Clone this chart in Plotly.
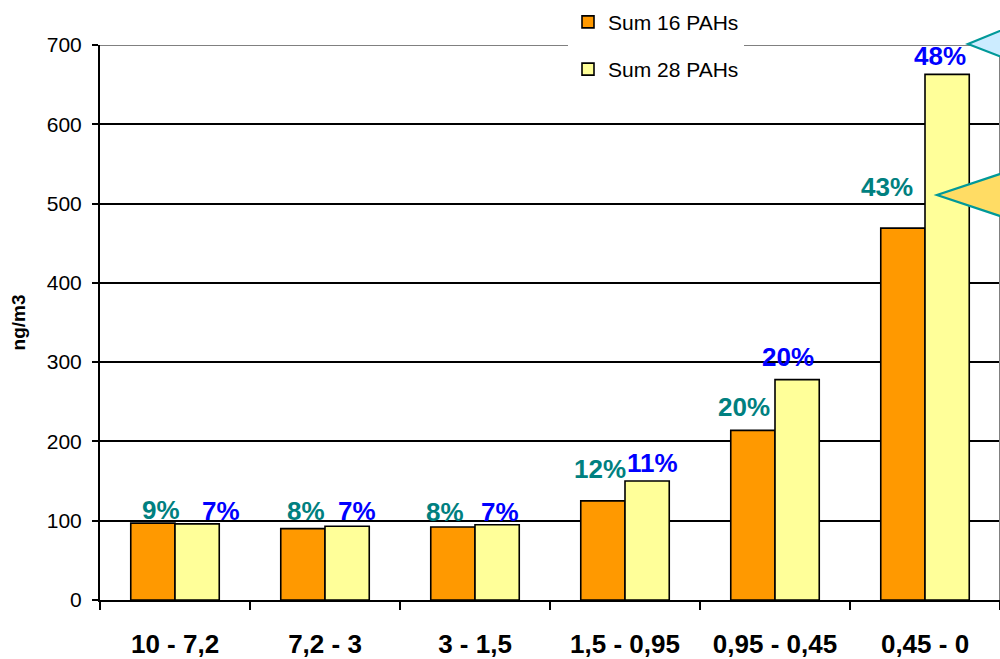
import plotly.graph_objects as go

# Particle size fractions (µm) and PAH concentrations (ng/m3)
categories = ["10 - 7,2", "7,2 - 3", "3 - 1,5", "1,5 - 0,95", "0,95 - 0,45", "0,45 - 0"]
sum16 = [97, 90, 92, 125, 214, 469]
sum28 = [96, 93, 95, 150, 278, 663]
pct16 = ["9%", "8%", "8%", "12%", "20%", "43%"]
pct28 = ["7%", "7%", "7%", "11%", "20%", "48%"]
y_ticks = [0, 100, 200, 300, 400, 500, 600, 700]

# label nudges (pixels): horizontal shift, height above bar top
shift16_x = [8, 3, -8, -3, -9, -16]
shift16_y = [13, 18, 15, 32, 23, 41]
shift28_x = [24, 10, 3, 5, -9, -7]
shift28_y = [13, 15, 13, 18, 23, 18]

FONT = "Arial, Liberation Sans, sans-serif"
ORANGE = "#FF9900"
PALE = "#FFFF99"
TEAL = "#008080"
BLUE = "#0000FF"

fig = go.Figure()
fig.add_trace(go.Bar(
    x=categories, y=sum16, name="Sum 16 PAHs", legendgroup="a",
    marker=dict(color=ORANGE, line=dict(color="black", width=1.6)),
))
fig.add_trace(go.Bar(
    x=categories, y=sum28, name="Sum 28 PAHs", legendgroup="b",
    marker=dict(color=PALE, line=dict(color="black", width=1.6)),
))

# percentage labels above each bar pair
n = len(categories)
for i in range(n):
    fig.add_annotation(
        x=i, y=sum16[i], xref="x", yref="y", text=f"<b>{pct16[i]}</b>",
        showarrow=False, xanchor="center", yanchor="middle",
        xshift=-22 + shift16_x[i], yshift=shift16_y[i],
        font=dict(family=FONT, size=26, color=TEAL),
    )
    fig.add_annotation(
        x=i, y=sum28[i], xref="x", yref="y", text=f"<b>{pct28[i]}</b>",
        showarrow=False, xanchor="center", yanchor="middle",
        xshift=22 + shift28_x[i], yshift=shift28_y[i],
        font=dict(family=FONT, size=26, color=BLUE),
    )

# gray top border of the plot area and right border
fig.add_shape(type="line", xref="paper", yref="y", x0=0, x1=1, y0=700, y1=700,
              line=dict(color="#808080", width=2), layer="above")
fig.add_shape(type="line", xref="paper", yref="paper", x0=1, x1=1, y0=0, y1=1,
              line=dict(color="#808080", width=2), layer="above")


def px(x, y):
    # convert figure pixel position to paper coordinates
    return (x - 100) / 900, (600 - y) / 555


def callout(points, fill):
    pts = [px(x, y) for x, y in points]
    path = "M " + " L ".join(f"{a:.5f},{b:.5f}" for a, b in pts) + " Z"
    fig.add_shape(type="path", xref="paper", yref="paper", path=path,
                  fillcolor=fill, line=dict(color="#009999", width=2.2), layer="above")


callout([(1012, 26), (968, 44), (1012, 61)], "#CCECFF")
callout([(1012, 170), (937, 195), (1012, 220)], "#FFDC64")

fig.update_layout(
    width=1000, height=659,
    margin=dict(l=100, r=0, t=45, b=59),
    paper_bgcolor="white", plot_bgcolor="white",
    barmode="group", bargap=0.41, bargroupgap=0,
    font=dict(family=FONT, color="black"),
    showlegend=True,
    legend=dict(
        x=0.52, y=1.078, xanchor="left", yanchor="top",
        bgcolor="white", borderwidth=0,
        font=dict(family=FONT, size=21, color="black"),
        traceorder="grouped", tracegroupgap=17, itemwidth=30,
    ),
    xaxis=dict(
        type="category", showgrid=False,
        showline=True, linecolor="black", linewidth=2,
        ticks="outside", tickson="boundaries", ticklen=8, tickwidth=2, tickcolor="black",
        tickfont=dict(family=FONT, size=26, color="black", weight="bold"),
        ticklabelstandoff=20,
    ),
    yaxis=dict(
        range=[0, 700], tickvals=y_ticks,
        showgrid=True, gridcolor="black", gridwidth=1.6,
        showline=True, linecolor="black", linewidth=2,
        ticks="outside", ticklen=6, tickwidth=2, tickcolor="black",
        tickfont=dict(family=FONT, size=21, color="black"),
        ticklabelstandoff=6,
        zeroline=False,
        title=dict(text="<b>ng/m3</b>", font=dict(family=FONT, size=19, color="black"), standoff=16),
    ),
)

fig.write_html("out.html")
